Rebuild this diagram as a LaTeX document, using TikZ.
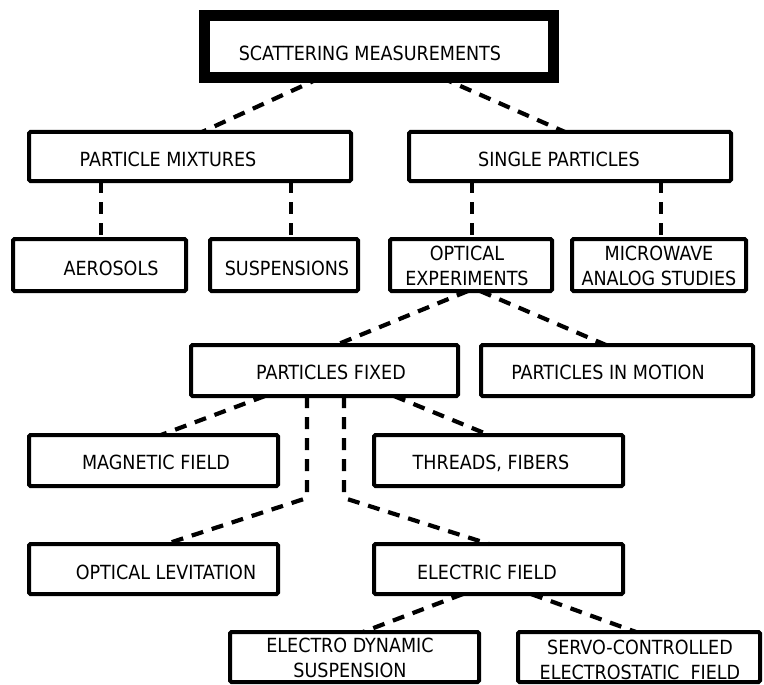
\documentclass[tikz,border=0pt]{standalone}
\usepackage{fontspec}
\setmainfont{DejaVu Sans Condensed}
\begin{document}
\begin{tikzpicture}[x=1pt,y=-1pt,
  box/.style={draw,line width=4pt,inner sep=0pt,outer sep=0pt,rounded corners=1.5pt},
  topbox/.style={draw,line width=11pt,inner sep=0pt,outer sep=0pt},
  lbl/.style={inner sep=0pt,font=\fontsize{19.5}{25}\selectfont,text height=14.2pt,text depth=0pt},
  lbltwo/.style={inner sep=0pt,font=\fontsize{19.5}{25}\selectfont,align=center},
  conn/.style={line width=4.2pt,dash pattern=on 12pt off 9pt}]
\useasboundingbox (0,0) rectangle (764,685);
% boxes
\node[topbox,minimum width=349pt,minimum height=62pt] (top) at (379,46.5) {};
\node[box,minimum width=322pt,minimum height=49pt] (pm) at (190,156.5) {};
\node[box,minimum width=322pt,minimum height=49pt] (sp) at (570,156.5) {};
\node[box,minimum width=173pt,minimum height=52pt] (aero) at (99.5,265) {};
\node[box,minimum width=148pt,minimum height=52pt] (susp) at (284,265) {};
\node[box,minimum width=162pt,minimum height=52pt] (oe) at (471,265) {};
\node[box,minimum width=174pt,minimum height=52pt] (mw) at (659,265) {};
\node[box,minimum width=267pt,minimum height=51pt] (pf) at (324.5,370.5) {};
\node[box,minimum width=272pt,minimum height=51pt] (pim) at (617,370.5) {};
\node[box,minimum width=249pt,minimum height=51pt] (mf) at (153.5,460.5) {};
\node[box,minimum width=249pt,minimum height=51pt] (tf) at (498.5,460.5) {};
\node[box,minimum width=249pt,minimum height=50pt] (ol) at (153.5,569) {};
\node[box,minimum width=249pt,minimum height=50pt] (ef) at (498.5,569) {};
\node[box,minimum width=249pt,minimum height=50pt] (ed) at (354.5,657) {};
\node[box,minimum width=242pt,minimum height=50pt] (sc) at (639,657) {};
% texts
\node[lbl] (top-t) at (370,53) {SCATTERING MEASUREMENTS};
\node[lbl] (pm-t) at (168,159) {PARTICLE MIXTURES};
\node[lbl] (sp-t) at (559,159) {SINGLE PARTICLES};
\node[lbl] (aero-t) at (111,268) {AEROSOLS};
\node[lbl] (susp-t) at (287,268) {SUSPENSIONS};
\node[lbltwo] (oe-t) at (467,266) {OPTICAL\\EXPERIMENTS};
\node[lbltwo] (mw-t) at (659,266) {MICROWAVE\\ANALOG STUDIES};
\node[lbl] (pf-t) at (331,372) {PARTICLES FIXED};
\node[lbl] (pim-t) at (608,372) {PARTICLES IN MOTION};
\node[lbl] (mf-t) at (156,462) {MAGNETIC FIELD};
\node[lbl] (tf-t) at (491,462) {THREADS, FIBERS};
\node[lbl] (ol-t) at (166,572) {OPTICAL LEVITATION};
\node[lbl] (ef-t) at (487,572) {ELECTRIC FIELD};
\node[lbltwo] (ed-t) at (350,658) {ELECTRO DYNAMIC\\SUSPENSION};
\node[lbltwo] (sc-t) at (640,660) {SERVO-CONTROLLED\\ELECTROSTATIC\ \ FIELD};
% connectors
\draw[conn] ([xshift=-58pt]top.south) -- ([xshift=12pt]pm.north);
\draw[conn] ([xshift=62pt]top.south) -- ([xshift=-5pt]sp.north);
\draw[conn] ([xshift=1.5pt]aero.north |- pm.south) -- ([xshift=1.5pt]aero.north);
\draw[conn] ([xshift=7pt]susp.north |- pm.south) -- ([xshift=7pt]susp.north);
\draw[conn] ([xshift=1pt]oe.north |- sp.south) -- ([xshift=1pt]oe.north);
\draw[conn] ([xshift=2pt]mw.north |- sp.south) -- ([xshift=2pt]mw.north);
\draw[conn] ([xshift=-3pt]oe.south) -- ([xshift=11.5pt]pf.north);
\draw[conn] ([xshift=9pt]oe.south) -- ([xshift=-11pt]pim.north);
\draw[conn] ([xshift=-59.5pt]pf.south) -- ([xshift=7.5pt]mf.north);
\draw[conn] ([xshift=69.5pt]pf.south) -- ([xshift=-9.5pt]tf.north);
\coordinate (bendl) at (307,498);
\coordinate (bendr) at (344,498);
\draw[conn,rounded corners=4pt] ([xshift=-17.5pt]pf.south) -- (bendl) -- ([xshift=12.5pt]ol.north);
\draw[conn,rounded corners=4pt] ([xshift=19.5pt]pf.south) -- (bendr) -- ([xshift=-9.5pt]ef.north);
\draw[conn] ([xshift=-35.5pt]ef.south) -- ([xshift=8.5pt]ed.north);
\draw[conn] ([xshift=32.5pt]ef.south) -- ([xshift=-3pt]sc.north);
\end{tikzpicture}
\end{document}
